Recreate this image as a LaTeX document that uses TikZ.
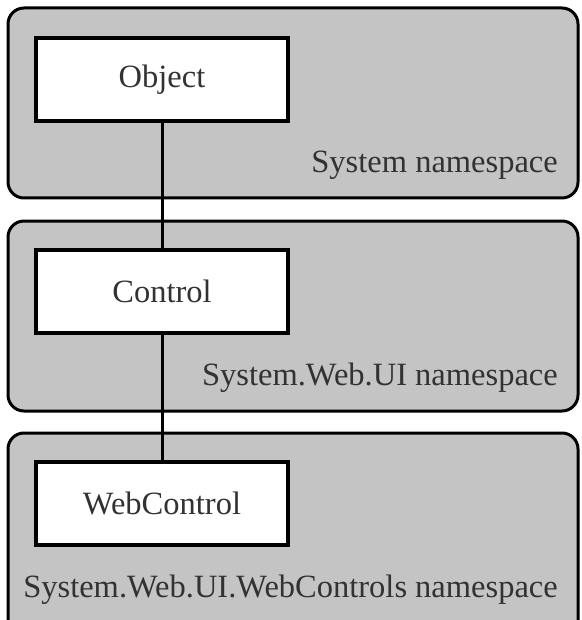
\documentclass[tikz,border=0pt]{standalone}
\usepackage{fontspec}
\setmainfont{Liberation Serif}
\definecolor{panelgray}{RGB}{196,196,196}
\definecolor{textgray}{RGB}{50,50,50}
\begin{document}
\begin{tikzpicture}[x=1pt,y=-1pt,
  panel/.style={draw=black,fill=panelgray,line width=3pt,rounded corners=16pt,
    minimum width=570pt,inner sep=0pt},
  classbox/.style={draw=black,fill=white,line width=3.5pt,minimum width=252pt,
    minimum height=83pt,inner sep=0pt,font=\fontsize{32.5}{38}\selectfont,text=textgray},
  nslabel/.style={font=\fontsize{32.5}{38}\selectfont,text=textgray,inner sep=0pt},
  link/.style={line width=3pt}]
\useasboundingbox (0,0) rectangle (581,620);
\clip (0,0) rectangle (581,620);
\fill[white] (0,0) rectangle (581,620);
\node[panel,minimum height=190pt] (p1) at (293,103) {};
\node[panel,minimum height=190pt] (p2) at (293,316) {};
\node[panel,minimum height=204pt] (p3) at (293,535) {};
\node[classbox] (obj) at (162,79.5) {Object};
\node[classbox] (ctl) at (162,291.5) {Control};
\node[classbox] (web) at (162,503.5) {WebControl};
\draw[link] (obj) -- (ctl);
\draw[link] (ctl) -- (web);
\node[nslabel,anchor=base east] (n1) at (558,173) {System namespace};
\node[nslabel,anchor=base east] (n2) at (558,385) {System.Web.UI namespace};
\node[nslabel,anchor=base east] (n3) at (558,597) {System.Web.UI.WebControls namespace};
\end{tikzpicture}
\end{document}
